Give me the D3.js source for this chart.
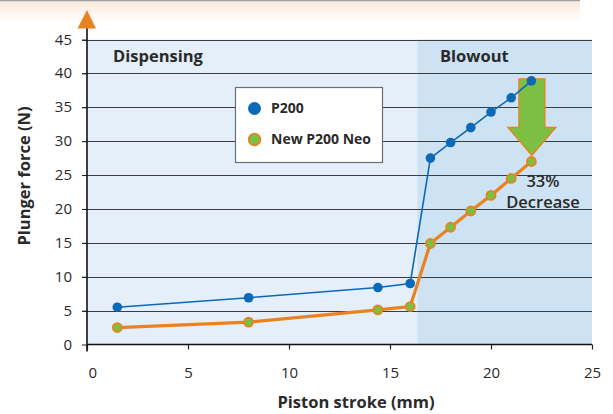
<!DOCTYPE html>
<html>
<head>
<meta charset="utf-8">
<script src="https://cdn.jsdelivr.net/npm/d3@7"></script>
<style>
body { margin: 0; background: #fff; }
text { font-family: "Open Sans", "Noto Sans", sans-serif; fill: #2a2a2a; }
</style>
</head>
<body>
<div id="chart"></div>
<script>
// data
let stroke = [1.5, 8, 14.4, 16, 17, 18, 19, 20, 21, 22];
let p200 = [5.5, 6.9, 8.4, 9.0, 27.5, 29.8, 32.0, 34.3, 36.4, 38.9];
let neo = [2.5, 3.3, 5.1, 5.6, 14.9, 17.3, 19.7, 22.0, 24.5, 27.0];
let xTicks = [0, 5, 10, 15, 20, 25];
let yTicks = [0, 5, 10, 15, 20, 25, 30, 35, 40, 45];
let seriesNames = ["P200", "New P200 Neo"];
let zones = [{name: "Dispensing", from: 0, to: 16.35}, {name: "Blowout", from: 16.35, to: 25}];
let note = ["33%", "Decrease"];

let width = 613,
height = 414;

let blue = "#0b69b7",
orange = "#e8831f",
green = "#7cbf42";

let svg = d3.select("#chart")
.append("svg")
.attr("width", width)
.attr("height", height);

// faint header fade at top
let defs = svg.append("defs");
let grad = defs.append("linearGradient")
.attr("id", "fade")
.attr("x1", 0).attr("y1", 0).attr("x2", 0).attr("y2", 1);
grad.append("stop").attr("offset", "0%").attr("stop-color", "#fbe9dc");
grad.append("stop").attr("offset", "100%").attr("stop-color", "#ffffff");
svg.append("rect").attr("x", 0).attr("y", 1).attr("width", 580).attr("height", 22).attr("fill", "url(#fade)");
svg.append("line").attr("x1", 0).attr("x2", 580).attr("y1", 0.5).attr("y2", 0.5)
.attr("stroke", "#9aa3ad").attr("stroke-width", 1.5);

let x = d3.scaleLinear().domain([0, 25]).range([87, 592]);
let y = d3.scaleLinear().domain([0, 45]).range([344.5, 39.5]);

// zone backgrounds
svg.append("g").selectAll("rect")
.data(zones)
.enter().append("rect")
.attr("x", d => x(d.from))
.attr("width", d => x(d.to) - x(d.from))
.attr("y", y(45))
.attr("height", y(0) - y(45))
.attr("fill", (d, i) => i == 0 ? "#e4eff9" : "#cde2f3");

// grid lines
svg.append("g").selectAll("line")
.data(yTicks.filter(d => d > 0))
.enter().append("line")
.attr("x1", 82)
.attr("x2", x(25))
.attr("y1", d => Math.round(y(d)) + 0.5)
.attr("y2", d => Math.round(y(d)) + 0.5)
.attr("stroke", "#3a3d42")
.attr("stroke-width", 1.1);

// y axis
let yAxis = svg.append("g")
.attr("transform", "translate(" + x(0) + ",0)")
.call(d3.axisLeft(y).tickValues(yTicks).tickSize(5).tickPadding(10));
yAxis.select(".domain").remove();
yAxis.selectAll("text").style("font-size", "15px").attr("fill", "#2a2a2a").attr("dy", "0.3em");
yAxis.selectAll("line").attr("stroke", "#222");

// x axis
let xAxis = svg.append("g")
.attr("transform", "translate(0," + y(0) + ")")
.call(d3.axisBottom(x).tickValues(xTicks).tickSize(5).tickPadding(18));
xAxis.select(".domain").attr("d", "M" + x(0) + ",0H" + x(25)).attr("stroke", "#111").attr("stroke-width", 1.5);
xAxis.selectAll("text").style("font-size", "15px").attr("fill", "#2a2a2a")
.attr("dx", d => d == 0 ? "0.35em" : 0);
xAxis.selectAll("line").attr("stroke", "#222").attr("stroke-width", 1.2);

// vertical axis line with arrow head
svg.append("line")
.attr("x1", x(0)).attr("x2", x(0))
.attr("y1", 27).attr("y2", y(0) + 7)
.attr("stroke", "#111").attr("stroke-width", 1.6);
svg.append("path")
.attr("d", "M" + x(0) + ",10L" + (x(0) + 9) + ",28.5L" + (x(0) - 9.5) + ",28.5Z")
.attr("fill", orange);

// zone labels
svg.append("g").selectAll("text")
.data(zones)
.enter().append("text")
.attr("x", (d, i) => i == 0 ? 113 : 440)
.attr("y", 62)
.style("font-size", "16.5px")
.style("font-weight", 700)
.text(d => d.name);

// decrease arrow
let last = stroke.length - 1;
let ax = x(stroke[last]) + 0.5,
ay0 = y(p200[last]) - 2,
ay1 = y(neo[last]) - 6;
svg.append("path")
.attr("d", "M" + (ax - 13) + "," + ay0 + "H" + (ax + 13) + "V" + (ay1 - 28) + "H" + (ax + 24)
  + "L" + ax + "," + ay1 + "L" + (ax - 24) + "," + (ay1 - 28) + "H" + (ax - 13) + "Z")
.attr("fill", green)
.attr("stroke", orange)
.attr("stroke-width", 1.3);

let pts = (vals) => stroke.map((s, i) => [x(s), y(vals[i])]);
let line = d3.line();

// P200
svg.append("path")
.attr("d", line(pts(p200)))
.attr("fill", "none")
.attr("stroke", blue)
.attr("stroke-width", 1.6);
svg.append("g").selectAll("circle")
.data(pts(p200))
.enter().append("circle")
.attr("cx", d => d[0])
.attr("cy", d => d[1])
.attr("r", 4.8)
.attr("fill", blue);

// New P200 Neo
svg.append("path")
.attr("d", line(pts(neo)))
.attr("fill", "none")
.attr("stroke", orange)
.attr("stroke-width", 3.2);
svg.append("g").selectAll("circle")
.data(pts(neo))
.enter().append("circle")
.attr("cx", d => d[0])
.attr("cy", d => d[1])
.attr("r", 4.5)
.attr("fill", green)
.attr("stroke", orange)
.attr("stroke-width", 1.8);

// annotation
svg.append("g").selectAll("text")
.data(note)
.enter().append("text")
.attr("x", 543)
.attr("y", (d, i) => 186.5 + i * 21.5)
.attr("text-anchor", "middle")
.style("font-size", "16.5px").style("font-weight", 600)
.text(d => d);

// legend
let legend = svg.append("g");
legend.append("rect")
.attr("x", 235.5).attr("y", 87.5)
.attr("width", 147).attr("height", 75)
.attr("fill", "#fff")
.attr("stroke", "#6b6e72")
.attr("stroke-width", 1.2);
legend.selectAll("circle")
.data(seriesNames)
.enter().append("circle")
.attr("cx", 254.5)
.attr("cy", (d, i) => 108.5 + i * 31)
.attr("r", (d, i) => i == 0 ? 6.5 : 5.8)
.attr("fill", (d, i) => i == 0 ? blue : green)
.attr("stroke", (d, i) => i == 0 ? "none" : orange)
.attr("stroke-width", 1.8);
legend.selectAll("text")
.data(seriesNames)
.enter().append("text")
.attr("x", 271)
.attr("y", (d, i) => 113 + i * 31)
.style("font-size", "14px")
.style("font-weight", 700)
.text(d => d);

// axis titles
svg.append("text")
.attr("x", 356).attr("y", 408)
.attr("text-anchor", "middle")
.style("font-size", "16.5px").style("font-weight", 700)
.text("Piston stroke (mm)");
svg.append("text")
.attr("transform", "translate(29.5,176) rotate(-90)")
.attr("text-anchor", "middle")
.style("font-size", "16.5px").style("font-weight", 700)
.text("Plunger force (N)");
</script>
</body>
</html>
